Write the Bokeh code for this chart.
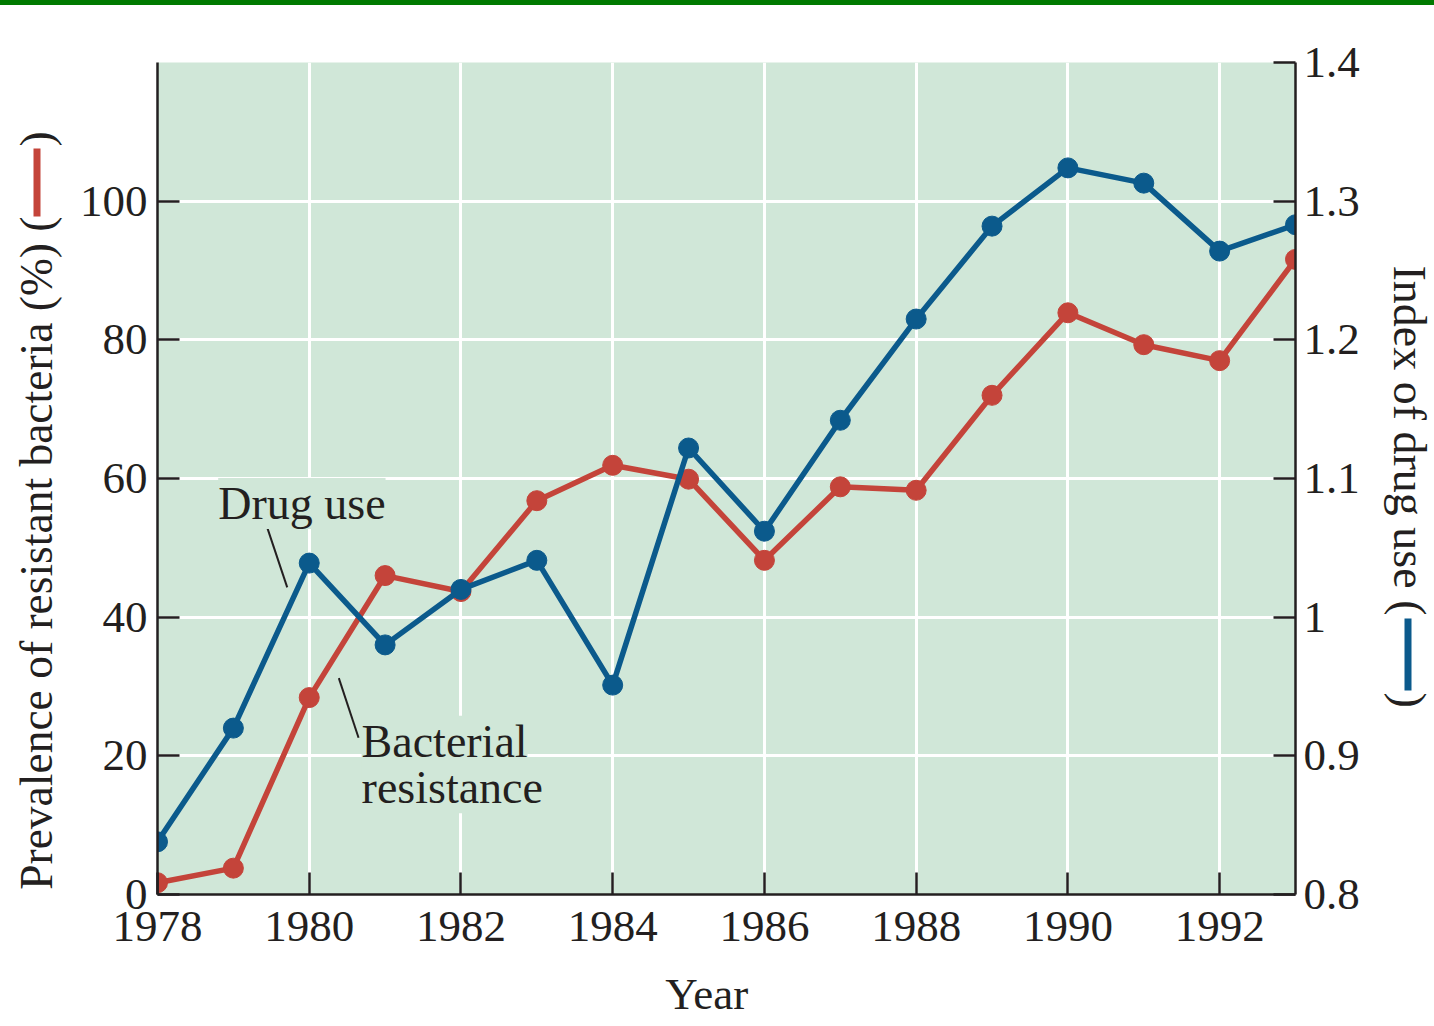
import math
from bokeh.plotting import figure
from bokeh.layouts import row
from bokeh.models import (Range1d, LinearAxis, FixedTicker, Label,
                          CustomJSTickFormatter, ColumnDataSource, Div)
from bokeh.core.properties import value
from bokeh.embed import file_html
from bokeh.resources import INLINE

# ---------------- data ----------------
years = [1978, 1979, 1980, 1981, 1982, 1983, 1984, 1985, 1986, 1987, 1988, 1989, 1990, 1991, 1992, 1993]
resistance = [1.7, 3.8, 28.4, 46.0, 43.7, 56.8, 61.9, 59.9, 48.2, 58.8, 58.3, 72.0, 83.9, 79.3, 77.0, 91.6]
drug_use = [0.838, 0.920, 1.039, 0.980, 1.020, 1.041, 0.951, 1.122, 1.062, 1.142, 1.215, 1.282, 1.324, 1.313, 1.264, 1.283]

x_ticks = [1978, 1980, 1982, 1984, 1986, 1988, 1990, 1992]
left_ticks = [0, 20, 40, 60, 80, 100]
right_ticks = [0.8, 0.9, 1.0, 1.1, 1.2, 1.3, 1.4]

left_title = "Prevalence of resistant bacteria (%) ("
right_title = "Index of drug use ("
x_title = "Year"
x_title_pos = 1985.24

# in-plot annotation anchors (data coords)
drug_label = dict(text="Drug use", x=1978.80, y=56.4)
bact_label1 = dict(text="Bacterial", x=1980.69, y=22.1)
bact_label2 = dict(text="resistance", x=1980.69, y=15.4)
drug_leader = dict(x0=1979.45, y0=52.8, x1=1979.71, y1=44.3)
bact_leader = dict(x0=1980.39, y0=31.2, x1=1980.65, y1=22.6)

# ---------------- style ----------------
BLUE = "#0B5A8C"
RED = "#C4443A"
BG = "#D0E7D8"
INK = "#231F20"
FONT = "Liberation Serif"
TOP, FH, BOT = 62, 832, 128
H = TOP + FH + BOT

p = figure(frame_width=1138, frame_height=FH,
           min_border_left=87, min_border_right=75, min_border_top=TOP, min_border_bottom=BOT,
           x_range=Range1d(1978, 1993), y_range=Range1d(0, 120),
           output_backend="svg", toolbar_location=None, tools="")
p.extra_y_ranges = {"drug": Range1d(0.8, 1.4)}
p.background_fill_color = BG
p.border_fill_color = "white"
p.outline_line_color = None

p.xgrid.ticker = FixedTicker(ticks=x_ticks)
p.ygrid.ticker = FixedTicker(ticks=left_ticks)
for g in (p.xgrid, p.ygrid):
    g.grid_line_color = "white"
    g.grid_line_width = 3

def style_axis(ax, standoff):
    ax.axis_line_color = INK
    ax.axis_line_width = 2.5
    ax.major_tick_in = 22
    ax.major_tick_out = 0
    ax.major_tick_line_color = INK
    ax.major_tick_line_width = 2.5
    ax.minor_tick_line_color = None
    ax.major_label_text_font = FONT
    ax.major_label_text_font_size = "45px"
    ax.major_label_text_color = INK
    ax.major_label_standoff = standoff

xa = p.xaxis[0]
xa.ticker = FixedTicker(ticks=x_ticks)
style_axis(xa, 17)

# x-axis title as the single label of a second, bare axis below
xt = LinearAxis(ticker=FixedTicker(ticks=[x_title_pos]))
xt.formatter = CustomJSTickFormatter(code="return '%s';" % x_title)
xt.axis_line_color = None
xt.major_tick_line_color = None
xt.minor_tick_line_color = None
xt.major_label_text_font = FONT
xt.major_label_text_font_size = "45px"
xt.major_label_text_color = INK
xt.major_label_standoff = 19
p.add_layout(xt, "below")

ya = p.yaxis[0]
ya.ticker = FixedTicker(ticks=left_ticks)
style_axis(ya, 10)

ra = LinearAxis(y_range_name="drug", ticker=FixedTicker(ticks=right_ticks))
ra.formatter = CustomJSTickFormatter(code="return tick.toFixed(1).replace('.0', '');")
style_axis(ra, 8)
p.add_layout(ra, "right")

src = ColumnDataSource(dict(year=years, res=resistance, drug=drug_use))
p.line("year", "res", source=src, line_color=RED, line_width=5.5)
p.scatter("year", "res", source=src, size=20, fill_color=RED, line_color=RED)
p.line("year", "drug", source=src, y_range_name="drug", line_color=BLUE, line_width=5.5)
p.scatter("year", "drug", source=src, y_range_name="drug", size=20, fill_color=BLUE, line_color=BLUE)

for ld in (drug_leader, bact_leader):
    p.segment(x0=[ld["x0"]], y0=[ld["y0"]], x1=[ld["x1"]], y1=[ld["y1"]], line_color=INK, line_width=2)

for lb in (drug_label, bact_label1, bact_label2):
    p.add_layout(Label(x=lb["x"], y=lb["y"], text=lb["text"], text_font=FONT, text_font_size="46px",
                       text_color=INK, text_align="left", text_baseline="alphabetic",
                       background_fill_color=BG))

# ---------------- side panels for the axis titles ----------------
# (row layout aligns their frames with the main frame; y = pixels above frame bottom)
def side_fig(w):
    f = figure(width=w, height=H, x_range=Range1d(0, w), y_range=Range1d(0, FH),
               x_axis_location=None, y_axis_location=None, min_border=0,
               min_border_top=TOP, min_border_bottom=BOT,
               output_backend="svg", toolbar_location=None, tools="")
    f.outline_line_color = None
    f.background_fill_color = "white"
    f.border_fill_color = "white"
    f.grid.visible = False
    return f

def up(img_y):
    return TOP + FH - img_y

lf = side_fig(70)
lf.text(x=[36], y=[up(216)], text=[left_title], angle=math.pi / 2, text_font=value(FONT),
        text_font_size="45.5px", text_color=INK, text_align="right", text_baseline="alphabetic")
lf.quad(left=[33], right=[40], bottom=[up(216)], top=[up(148)], fill_color=RED, line_color=None)
lf.text(x=[36], y=[up(146)], text=[")"], angle=math.pi / 2, text_font=value(FONT),
        text_font_size="45.5px", text_color=INK, text_align="left", text_baseline="alphabetic")

rf = side_fig(64)
rf.text(x=[39], y=[up(615)], text=[right_title], angle=-math.pi / 2, text_font=value(FONT),
        text_font_size="46px", text_color=INK, text_align="right", text_baseline="alphabetic")
rf.quad(left=[34], right=[41], bottom=[up(690)], top=[up(618)], fill_color=BLUE, line_color=None)
rf.text(x=[39], y=[up(692)], text=[")"], angle=-math.pi / 2, text_font=value(FONT),
        text_font_size="46px", text_color=INK, text_align="left", text_baseline="alphabetic")

layout = row(lf, p, rf)

bar = Div(text="", margin=0, styles={"position": "fixed", "top": "0px", "left": "0px", "width": "100%",
                                     "height": "5px", "background-color": "#007A00"})

open("out.html", "w").write(file_html([layout, bar], INLINE))
